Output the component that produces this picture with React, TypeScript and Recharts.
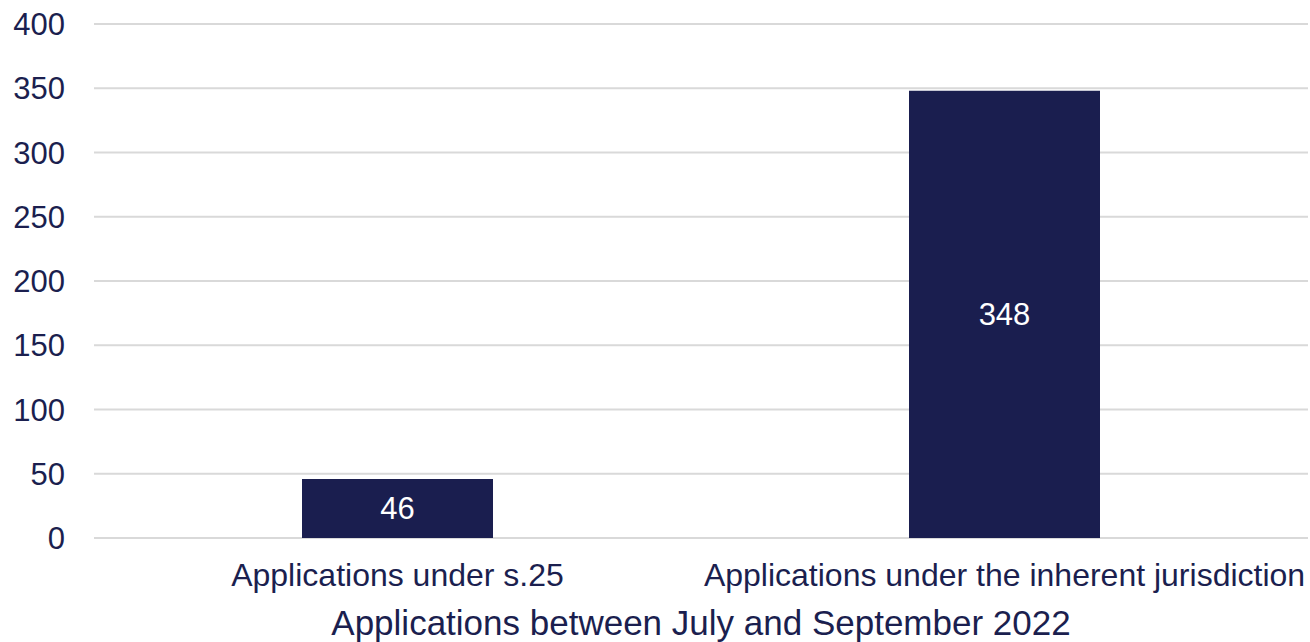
import { BarChart, Bar, XAxis, YAxis, CartesianGrid, LabelList, Label } from 'recharts';

const categories = ['Applications under s.25', 'Applications under the inherent jurisdiction'];
const applications = [46, 348];
const yTicks = [0, 50, 100, 150, 200, 250, 300, 350, 400];
const axisTitle = 'Applications between July and September 2022';

const chartData = categories.map((name, i) => ({ name, value: applications[i] }));

const NAVY = '#1b1f4f';
const FONT = '"Liberation Sans", Arial, sans-serif';

export default function App() {
  return (
    <div style={{ position: 'absolute', left: 0, top: 0, fontFamily: FONT }}>
      <BarChart
        width={1310}
        height={642}
        data={chartData}
        margin={{ top: 24, right: 2, bottom: 0, left: 0 }}
      >
        <CartesianGrid vertical={false} stroke="#d9d9d9" strokeWidth={2} />
        <XAxis
          dataKey="name"
          height={104}
          axisLine={false}
          tickLine={false}
          tickSize={0}
          tickMargin={25}
          interval={0}
          tick={{ fill: NAVY, fontSize: 32, fontFamily: FONT }}
        >
          <Label
            value={axisTitle}
            position="insideBottom"
            offset={7}
            fill={NAVY}
            fontSize={35}
            fontFamily={FONT}
          />
        </XAxis>
        <YAxis
          width={94}
          domain={[0, 400]}
          ticks={yTicks}
          axisLine={false}
          tickLine={false}
          tickSize={0}
          tickMargin={29}
          tick={{ fill: NAVY, fontSize: 31, fontFamily: FONT }}
        />
        <Bar dataKey="value" fill="#1a1e4f" barSize={191} isAnimationActive={false}>
          <LabelList dataKey="value" position="center" fill="#ffffff" fontSize={31} fontFamily={FONT} />
        </Bar>
      </BarChart>
    </div>
  );
}
